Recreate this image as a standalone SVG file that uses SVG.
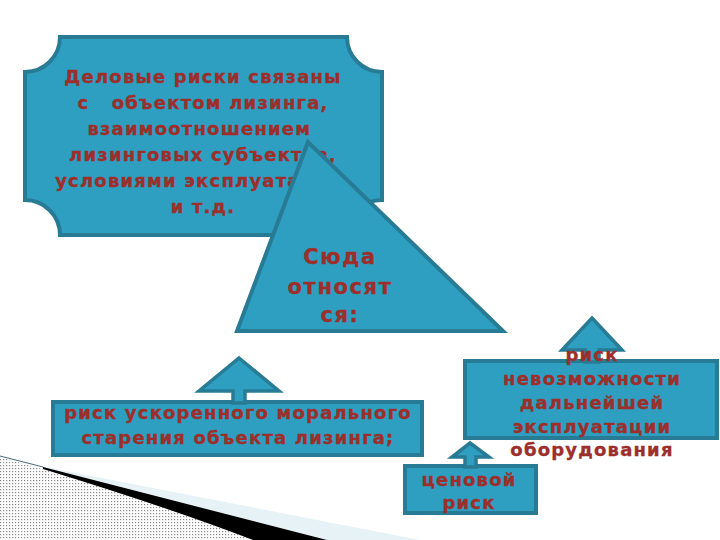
<svg xmlns="http://www.w3.org/2000/svg" width="720" height="540" viewBox="0 0 720 540">
<defs>
<pattern id="dots" width="3" height="3" patternUnits="userSpaceOnUse">
<rect width="3" height="3" fill="#ffffff"/>
<rect x="0" y="0" width="1.2" height="1.2" fill="#8a8a8a"/>
</pattern>
<style>
.shape{fill:#2e9fc1;stroke:#287b94;stroke-width:4;stroke-linejoin:miter}
.arrow{fill:#2e9fc1;stroke:#287b94;stroke-width:3.5;stroke-linejoin:miter}
.t{font-family:"DejaVu Sans","Verdana",sans-serif;font-weight:bold;fill:#9c2f2b;stroke:#9c2f2b;stroke-width:0.35;text-anchor:middle;white-space:pre}
.s17{font-size:18px;letter-spacing:1.2px}
.s20{font-size:21px;letter-spacing:1.6px}
</style>
</defs>
<rect width="720" height="540" fill="#ffffff"/>
<g id="decoration">
<path d="M40,466 L420,540 L327,540 Z" fill="#e6f2f6"/>
<path d="M0,457 Q120,490 253,540 L0,540 Z" fill="url(#dots)"/>
<path d="M43,467 L327,540 L253,540 Q170,508 43,469 Z" fill="#000000"/>
<path d="M0,456 L43,467" stroke="#4a6a7a" stroke-width="1" fill="none"/>
</g>
<g id="node-business-risks">
<path class="shape" d="M60,37 H347 A35,35 0 0 0 382,72 V200 A35,35 0 0 0 347,235 H60 A35,35 0 0 0 25,200 V72 A35,35 0 0 0 60,37 Z"/>
<text class="t s17" x="203" y="83">Деловые риски связаны</text>
<text class="t s17" x="203" y="109">с   объектом лизинга,</text>
<text class="t s17" x="203" y="135">взаимоотношением </text>
<text class="t s17" x="203" y="161">лизинговых субъектов,</text>
<text class="t s17" x="203" y="187">условиями эксплуатации,</text>
<text class="t s17" x="203" y="213">и т.д.</text>
</g>
<g id="node-include">
<polygon class="shape" points="308,142 237,331 503,331"/>
<text class="t s20" x="340" y="264">Сюда</text>
<text class="t s20" x="340" y="294">относят</text>
<text class="t s20" x="340" y="322">ся:</text>
</g>
<g id="node-obsolescence">
<rect class="shape" x="53" y="402" width="369" height="53" stroke-width="3.5"/>
<text class="t s17" x="238" y="419">риск ускоренного морального</text>
<text class="t s17" x="238" y="444">старения объекта лизинга;</text>
</g>
<g id="node-exploitation">
<rect class="shape" x="465" y="361" width="252" height="77" stroke-width="3.5"/>
</g>
<g id="node-price">
<rect class="shape" x="405" y="466" width="131" height="47" stroke-width="3.5"/>
<text class="t s17" x="469" y="486">ценовой</text>
<text class="t s17" x="469" y="509">риск</text>
</g>
<g id="connectors">
<polygon class="arrow" points="239,358 279,391 245,391 245,403 233,403 233,391 199,391"/>
<polygon class="arrow" points="592,318 622,350 599,350 599,362 585,362 585,350 562,350"/>
<polygon class="arrow" points="470,443 489,457 476,457 476,467 465,467 465,457 452,457"/>
</g>
<g id="node-exploitation-text">
<text class="t s17" x="592" y="361">риск</text>
<text class="t s17" x="592" y="385">невозможности</text>
<text class="t s17" x="592" y="409">дальнейшей</text>
<text class="t s17" x="592" y="433">эксплуатации</text>
<text class="t s17" x="592" y="456">оборудования</text>
</g>
</svg>
